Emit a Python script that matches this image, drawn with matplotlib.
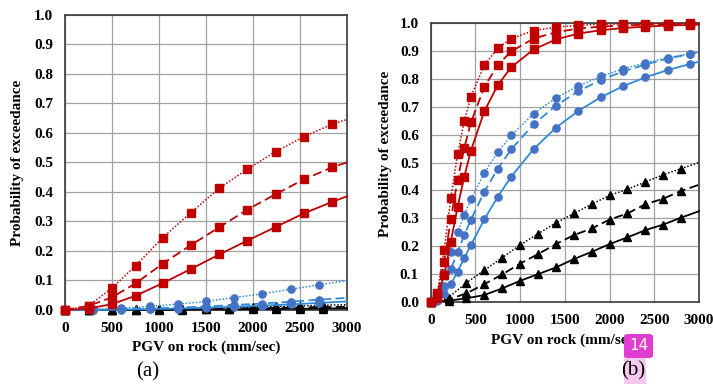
import matplotlib
matplotlib.use("Agg")
import matplotlib.pyplot as plt
from matplotlib.patches import FancyBboxPatch

plt.rcParams['font.family'] = ['Liberation Serif', 'DejaVu Serif']

# ---------------- data: panel (a) ----------------
xa_red = [0, 250, 500, 750, 1040, 1340, 1640, 1940, 2240, 2540, 2840, 3000]
a_red_dot = [0, 0.014, 0.074, 0.15, 0.245, 0.33, 0.412, 0.477, 0.536, 0.587, 0.629, 0.645]
a_red_dash = [0, 0.014, 0.043, 0.09, 0.157, 0.22, 0.28, 0.34, 0.392, 0.442, 0.483, 0.50]
a_red_solid = [0, 0.005, 0.02, 0.048, 0.091, 0.139, 0.188, 0.235, 0.281, 0.327, 0.366, 0.385]

xa_blue = [0, 300, 600, 900, 1200, 1500, 1800, 2100, 2400, 2700, 3000]
a_blue_dot = [0, 0.002, 0.006, 0.012, 0.02, 0.029, 0.042, 0.055, 0.07, 0.085, 0.1]
a_blue_dash = [0, 0.001, 0.003, 0.005, 0.008, 0.012, 0.017, 0.022, 0.028, 0.035, 0.041]
a_blue_solid = [0, 0, 0.001, 0.003, 0.005, 0.008, 0.011, 0.015, 0.019, 0.024, 0.029]

xa_black = [0, 250, 500, 750, 1000, 1250, 1500, 1750, 2000, 2250, 2500, 2750, 3000]
a_black_dot = [0, 0, 0.001, 0.002, 0.003, 0.004, 0.006, 0.008, 0.010, 0.012, 0.014, 0.016, 0.018]
a_black_dash = [0, 0, 0, 0.001, 0.002, 0.003, 0.004, 0.005, 0.006, 0.007, 0.009, 0.010, 0.011]
a_black_solid = [0, 0, 0, 0, 0.001, 0.001, 0.002, 0.002, 0.003, 0.004, 0.004, 0.005, 0.006]

# ---------------- data: panel (b) ----------------
xb_rb = [0, 75, 150, 225, 300, 375, 450, 600, 750, 900, 1150, 1400, 1650, 1900, 2150, 2400, 2650, 2900, 3000]
b_red_dot = [0, 0.032, 0.187, 0.371, 0.529, 0.649, 0.737, 0.850, 0.911, 0.945, 0.974, 0.986, 0.993, 0.996, 0.998, 0.999, 0.999, 1.0, 1.0]
b_red_dash = [0, 0.024, 0.144, 0.296, 0.437, 0.552, 0.644, 0.772, 0.850, 0.899, 0.945, 0.968, 0.981, 0.988, 0.992, 0.995, 0.996, 0.997, 0.998]
b_red_solid = [0, 0.014, 0.095, 0.216, 0.339, 0.449, 0.543, 0.684, 0.778, 0.842, 0.906, 0.942, 0.963, 0.975, 0.983, 0.988, 0.992, 0.994, 0.995]

b_blue_dot = [0, 0.033, 0.104, 0.179, 0.249, 0.312, 0.368, 0.463, 0.537, 0.597, 0.675, 0.732, 0.775, 0.809, 0.836, 0.858, 0.876, 0.891, 0.896]
b_blue_dash = [0, 0.013, 0.057, 0.116, 0.178, 0.239, 0.295, 0.395, 0.478, 0.547, 0.637, 0.704, 0.756, 0.796, 0.827, 0.852, 0.873, 0.890, 0.896]
b_blue_solid = [0, 0.004, 0.026, 0.063, 0.108, 0.156, 0.204, 0.296, 0.377, 0.449, 0.548, 0.625, 0.685, 0.734, 0.774, 0.806, 0.832, 0.854, 0.862]

xb_black = [0, 200, 400, 600, 800, 1000, 1200, 1400, 1600, 1800, 2000, 2200, 2400, 2600, 2800, 3000]
b_black_dot = [0, 0.015, 0.068, 0.113, 0.158, 0.204, 0.244, 0.283, 0.317, 0.35, 0.382, 0.404, 0.43, 0.456, 0.478, 0.5]
b_black_dash = [0, 0.008, 0.03, 0.063, 0.098, 0.137, 0.171, 0.207, 0.239, 0.263, 0.295, 0.317, 0.35, 0.37, 0.398, 0.42]
b_black_solid = [0, 0.004, 0.012, 0.024, 0.048, 0.075, 0.099, 0.123, 0.153, 0.179, 0.207, 0.231, 0.257, 0.277, 0.302, 0.325]

x_ticks = [0, 500, 1000, 1500, 2000, 2500, 3000]
y_ticks = [0.0, 0.1, 0.2, 0.3, 0.4, 0.5, 0.6, 0.7, 0.8, 0.9, 1.0]

RED = '#c00000'
BLUE_M = '#4472c4'
BLUE_L = '#2e8ad8'
BLACK = '#000000'

W, H = 713, 385
fig = plt.figure(figsize=(W / 100, H / 100), dpi=100)


def ax_rect(l, r, t, b):
    return [l / W, (H - b) / H, (r - l) / W, (b - t) / H]


ax_a = fig.add_axes(ax_rect(65, 347, 14.7, 310))
ax_b = fig.add_axes(ax_rect(430.7, 699, 23.3, 301.7))

styles = {
    'dot': dict(linestyle=(0, (1, 1.2)), linewidth=1.1),
    'dash': dict(linestyle=(0, (5, 2.5)), linewidth=1.3),
    'solid': dict(linestyle='-', linewidth=1.3),
}


def draw(ax, x, y, kind, lc, mc, marker, ms):
    ax.plot(x, y, color=lc, marker=marker, markersize=ms, markerfacecolor=mc,
            markeredgecolor=mc, markevery=slice(0, len(x) - 1), clip_on=False,
            zorder=3, **styles[kind])


for ax in (ax_a, ax_b):
    ax.set_xlim(0, 3000)
    ax.set_ylim(0, 1.0)
    ax.set_xticks(x_ticks)
    ax.set_yticks(y_ticks)
    ax.set_xticklabels([str(v) for v in x_ticks])
    ax.set_yticklabels([f"{v:.1f}" for v in y_ticks])
    ax.grid(True, color='#a0a0a0', linewidth=0.9)
    ax.set_axisbelow(True)
    ax.tick_params(length=0, labelsize=11)
    ax.tick_params(axis='y', pad=8.5)
    ax.tick_params(axis='x', pad=9)
    for lab in ax.get_xticklabels() + ax.get_yticklabels():
        lab.set_fontweight('bold')
    for s in ax.spines.values():
        s.set_color('#3a3a3a')
        s.set_linewidth(1.2)

# panel (a)
draw(ax_a, xa_black, a_black_dot, 'dot', BLACK, BLACK, '^', 5.5)
draw(ax_a, xa_black, a_black_dash, 'dash', BLACK, BLACK, '^', 5.5)
draw(ax_a, xa_black, a_black_solid, 'solid', BLACK, BLACK, '^', 5.5)
draw(ax_a, xa_blue, a_blue_dot, 'dot', BLUE_L, BLUE_M, 'o', 5.2)
draw(ax_a, xa_blue, a_blue_dash, 'dash', BLUE_L, BLUE_M, 'o', 5.2)
draw(ax_a, xa_blue, a_blue_solid, 'solid', BLUE_L, BLUE_M, 'o', 5.2)
draw(ax_a, xa_red, a_red_dot, 'dot', RED, RED, 's', 5.2)
draw(ax_a, xa_red, a_red_dash, 'dash', RED, RED, 's', 5.2)
draw(ax_a, xa_red, a_red_solid, 'solid', RED, RED, 's', 5.2)

# panel (b)
draw(ax_b, xb_black, b_black_dot, 'dot', BLACK, BLACK, '^', 5.5)
draw(ax_b, xb_black, b_black_dash, 'dash', BLACK, BLACK, '^', 5.5)
draw(ax_b, xb_black, b_black_solid, 'solid', BLACK, BLACK, '^', 5.5)
draw(ax_b, xb_rb, b_blue_dot, 'dot', BLUE_L, BLUE_M, 'o', 5.2)
draw(ax_b, xb_rb, b_blue_dash, 'dash', BLUE_L, BLUE_M, 'o', 5.2)
draw(ax_b, xb_rb, b_blue_solid, 'solid', BLUE_L, BLUE_M, 'o', 5.2)
draw(ax_b, xb_rb, b_red_dot, 'dot', RED, RED, 's', 5.2)
draw(ax_b, xb_rb, b_red_dash, 'dash', RED, RED, 's', 5.2)
draw(ax_b, xb_rb, b_red_solid, 'solid', RED, RED, 's', 5.2)


def ftext(x, y, s, **kw):
    fig.text(x / W, 1 - y / H, s, **kw)


ftext(206, 347, 'PGV on rock (mm/sec)', ha='center', va='center', fontsize=11, fontweight='bold')
ftext(565, 340, 'PGV on rock (mm/sec)', ha='center', va='center', fontsize=11, fontweight='bold')
ftext(18, 163, 'Probability of exceedance', ha='center', va='center', rotation=90, fontsize=11, fontweight='bold')
ftext(385, 154, 'Probability of exceedance', ha='center', va='center', rotation=90, fontsize=11, fontweight='bold')
ftext(147.5, 372, '(a)', ha='center', va='center', fontsize=15)

# pink highlight behind (b) and page badge
fig.patches.append(FancyBboxPatch((624 / W, 1 - 384 / H), 22 / W, 27 / H,
                                  boxstyle='square,pad=0', transform=fig.transFigure,
                                  facecolor='#f6c8ef', edgecolor='none', zorder=0))
ftext(633, 371, '(b)', ha='center', va='center', fontsize=15)
fig.patches.append(FancyBboxPatch((624 / W, 1 - 358 / H), 29 / W, 24 / H,
                                  boxstyle='round,pad=0,rounding_size=0.006',
                                  transform=fig.transFigure,
                                  facecolor='#e03ccf', edgecolor='none', zorder=5))
fig.text(638.5 / W, 1 - 346 / H, '14', ha='center', va='center', fontsize=11,
         color='white', family='DejaVu Sans', zorder=6)

fig.savefig('out.png', dpi=100)
